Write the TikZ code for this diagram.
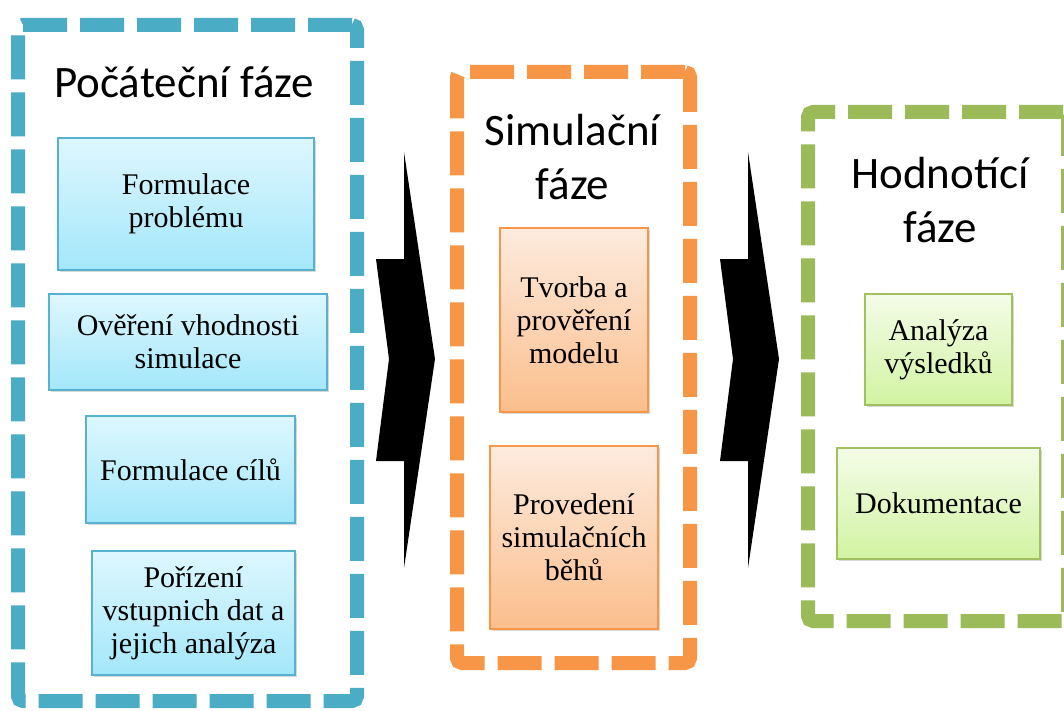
\documentclass[tikz,border=0pt]{standalone}
\usepackage{fontspec}
\setmainfont{Liberation Serif}
\newfontfamily\phasefont{Carlito}
\usetikzlibrary{shadows}
\definecolor{PhaseBlue}{RGB}{75,172,198}
\definecolor{PhaseOrange}{RGB}{247,150,70}
\definecolor{PhaseGreen}{RGB}{155,187,89}
\definecolor{BlueTop}{RGB}{222,247,254}
\definecolor{BlueBottom}{RGB}{163,231,250}
\definecolor{BlueEdge}{RGB}{86,178,206}
\definecolor{OrangeTop}{RGB}{253,235,222}
\definecolor{OrangeBottom}{RGB}{251,190,140}
\definecolor{GreenTop}{RGB}{243,252,232}
\definecolor{GreenBottom}{RGB}{210,243,162}
\definecolor{GreenEdge}{RGB}{160,192,98}
\tikzset{
  phaseframe/.style={dashed,dash pattern=on 44pt off 13pt,line width=14pt,rounded corners=5pt,inner sep=0pt},
  phasetitle/.style={font=\phasefont\fontsize{45}{54}\selectfont,align=center,anchor=base},
  stepbox/.style={line width=1.5pt,align=center,inner sep=0pt,font=\fontsize{30}{33}\selectfont,
    drop shadow={shadow xshift=1.5pt,shadow yshift=-2pt,opacity=0.3}},
  initbox/.style={stepbox,draw=BlueEdge,top color=BlueTop,bottom color=BlueBottom},
  simbox/.style={stepbox,draw=PhaseOrange,top color=OrangeTop,bottom color=OrangeBottom},
  evalbox/.style={stepbox,draw=GreenEdge,top color=GreenTop,bottom color=GreenBottom}
}

\begin{document}
\begin{tikzpicture}[x=1pt,y=-1pt]
\useasboundingbox[fill=white] (0,0) rectangle (1064,711);

% phase frames
\node[phaseframe,draw=PhaseBlue,minimum width=339pt,minimum height=676pt] (init) at (187.5,363) {};
\node[phaseframe,draw=PhaseOrange,minimum width=233pt,minimum height=591pt] (sim) at (573.5,367.5) {};
\node[phaseframe,draw=PhaseGreen,minimum width=260pt,minimum height=509pt] (eval) at (938,366.5) {};

\node[phasetitle] (inittitle) at (184,98) {Počáteční fáze};
\node[phasetitle] (simtitle) at (572.5,200) {Simulační\\fáze};
\node[phasetitle] (evaltitle) at (940,242) {Hodnotící\\fáze};

% steps
\node[initbox,minimum width=256pt,minimum height=132pt] (fp) at (186,204) {Formulace\\problému};
\node[initbox,minimum width=278pt,minimum height=96pt] (ovs) at (188,342) {Ověření vhodnosti\\simulace};
\node[initbox,minimum width=209pt,minimum height=107pt] (fc) at (190.5,469.5) {Formulace cílů};
\node[initbox,minimum width=203pt,minimum height=124pt] (pvd) at (193.5,613) {Pořízení\\vstupnich dat a\\jejich analýza};

\node[simbox,minimum width=148pt,minimum height=184pt] (tpm) at (574,320) {Tvorba a\\prověření\\modelu};
\node[simbox,minimum width=168pt,minimum height=183pt] (psb) at (574,537.5) {Provedení\\simulačních\\běhů};

\node[evalbox,minimum width=147pt,minimum height=111pt] (av) at (938.5,349.5) {Analýza\\výsledků};
\node[evalbox,minimum width=203pt,minimum height=111pt] (dok) at (938.5,503.5) {Dokumentace};

% chevrons between the phases
\foreach \dx in {0,344}
  \fill[black,shift={(\dx,0)}] (404,152) -- (435,359) -- (404,568) -- (404,461) -- (376,461)
    -- (389,359) -- (376,259) -- (404,259) -- cycle;
\end{tikzpicture}
\end{document}
